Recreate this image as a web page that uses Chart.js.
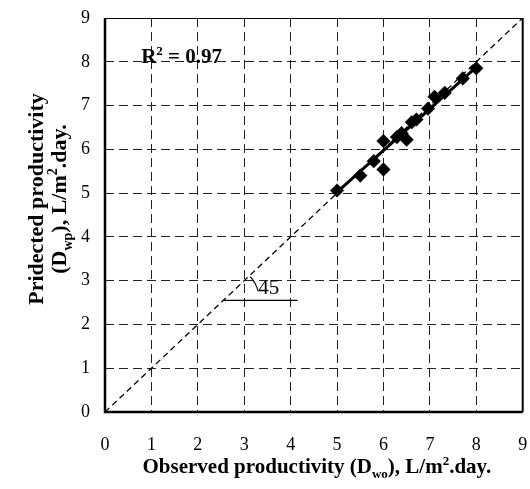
<!DOCTYPE html>
<html>
<head>
    <meta charset="UTF-8"/>
    <title>Observed vs predicted productivity</title>
    <script type="text/javascript" src="https://cdn.jsdelivr.net/npm/chart.js@4.4.0/dist/chart.umd.min.js"></script>
    <style>
        html, body { margin: 0; padding: 0; background: #fff; }
    </style>
</head>
<body>
<canvas id="graficoProd" width="530" height="489"></canvas>
<script type="text/javascript">
    // observed (Dwo) and predicted (Dwp) productivity, L/m2.day
    var observed  = [5.0, 5.5, 5.79, 6.0, 6.0, 6.29, 6.39, 6.5, 6.61, 6.71, 6.96, 7.1, 7.32, 7.71, 8.0];
    var predicted = [5.06, 5.40, 5.73, 5.54, 6.19, 6.28, 6.37, 6.22, 6.62, 6.68, 6.93, 7.2, 7.29, 7.62, 7.85];

    // fitted line ends and the 1:1 line
    var fitX = [5.0, 8.0];
    var fitY = [5.02, 7.88];
    var diagonal = [0, 9];

    var axisMin = 0;
    var axisMax = 9;

    // text annotations (data units)
    var r2Text = "0.97";
    var r2Pos = {x: 0.78, y: 7.97};
    var angleLineX = [2.55, 4.15];
    var angleLineY = 2.55;
    var angleText = "45";
    var anglePos = {x: 3.3, y: 2.7};

    var SERIF = "'Liberation Serif', 'Times New Roman', serif";

    // draws a list of [text, kind] pieces, kind = "n" | "sub" | "sup"
    var drawRich = function (ctx, parts, x, y, size, weight, align) {
        var fontFor = function (k) {
            var s = k === "n" ? size : Math.round(size * 0.64);
            return weight + " " + s + "px " + SERIF;
        };
        var total = 0;
        parts.forEach(function (p) {
            ctx.font = fontFor(p[1]);
            total += ctx.measureText(p[0]).width;
        });
        var cx = align === "center" ? x - total / 2 : x;
        ctx.textBaseline = "alphabetic";
        ctx.textAlign = "left";
        parts.forEach(function (p) {
            ctx.font = fontFor(p[1]);
            var dy = 0;
            if (p[1] === "sub") dy = size * 0.26;
            if (p[1] === "sup") dy = -size * 0.4;
            ctx.fillText(p[0], cx, y + dy);
            cx += ctx.measureText(p[0]).width;
        });
    };

    var decorPlugin = {
        id: 'decor',
        afterDraw: function (chart) {
            var ctx = chart.ctx;
            var a = chart.chartArea;
            var xs = chart.scales.x;
            var ys = chart.scales.y;
            ctx.save();
            ctx.fillStyle = "#000";
            ctx.strokeStyle = "#000";

            // frame
            ctx.lineWidth = 1;
            ctx.beginPath();
            ctx.moveTo(a.left, a.top + 0.5);
            ctx.lineTo(a.right, a.top + 0.5);
            ctx.stroke();
            ctx.lineWidth = 2.5;
            ctx.beginPath();
            ctx.moveTo(a.left, a.top);
            ctx.lineTo(a.left, a.bottom);
            ctx.lineTo(a.right, a.bottom);
            ctx.stroke();
            ctx.lineWidth = 2;
            ctx.beginPath();
            ctx.moveTo(a.right, a.top);
            ctx.lineTo(a.right, a.bottom);
            ctx.stroke();

            // R2
            drawRich(ctx, [["R", "n"], ["2", "sup"], [" = " + r2Text, "n"]],
                xs.getPixelForValue(r2Pos.x), ys.getPixelForValue(r2Pos.y), 21, "bold", "left");

            // 45 degree marker
            var ly = ys.getPixelForValue(angleLineY);
            var lx0 = xs.getPixelForValue(angleLineX[0]);
            var lx1 = xs.getPixelForValue(angleLineX[1]);
            ctx.lineWidth = 1.2;
            ctx.beginPath();
            ctx.moveTo(lx0, ly);
            ctx.lineTo(lx1, ly);
            ctx.stroke();
            ctx.beginPath();
            ctx.arc(lx0, ly, 36, -Math.PI * 0.23, -Math.PI * 0.08);
            ctx.stroke();
            ctx.font = "21px " + SERIF;
            ctx.textAlign = "left";
            ctx.textBaseline = "alphabetic";
            ctx.fillText(angleText, xs.getPixelForValue(anglePos.x), ys.getPixelForValue(anglePos.y));

            // x title
            drawRich(ctx, [["Observed productivity (D", "n"], ["wo", "sub"], ["), L/m", "n"], ["2", "sup"], [".day.", "n"]],
                (a.left + a.right) / 2 + 3, 473, 21, "bold", "center");

            // y title (two lines)
            var cy = 199;
            ctx.translate(43, cy);
            ctx.rotate(-Math.PI / 2);
            drawRich(ctx, [["Pridected productivity", "n"]], 0, 0, 22, "bold", "center");
            ctx.rotate(Math.PI / 2);
            ctx.translate(-43, -cy);
            ctx.translate(66, cy);
            ctx.rotate(-Math.PI / 2);
            drawRich(ctx, [["(D", "n"], ["wp", "sub"], ["), L/m", "n"], ["2", "sup"], [".day.", "n"]], 0, 0, 22, "bold", "center");
            ctx.restore();
        }
    };

    var points = observed.map(function (v, i) { return {x: v, y: predicted[i]}; });
    var fitPts = fitX.map(function (v, i) { return {x: v, y: fitY[i]}; });
    var diagPts = diagonal.map(function (v) { return {x: v, y: v}; });

    var tickFont = {family: SERIF, size: 18};

    var ctx = document.getElementById("graficoProd");
    var myChart = new Chart(ctx, {
        type: 'scatter',
        data: {
            datasets: [
                {
                    label: "1:1",
                    type: 'line',
                    data: diagPts,
                    borderColor: "#000",
                    borderWidth: 1.3,
                    borderDash: [6, 4],
                    pointRadius: 0,
                    fill: false
                },
                {
                    label: "fit",
                    type: 'line',
                    data: fitPts,
                    borderColor: "#000",
                    borderWidth: 3,
                    pointRadius: 0,
                    fill: false
                },
                {
                    label: "data",
                    data: points,
                    pointStyle: 'rectRot',
                    pointRadius: 6.8,
                    pointBorderWidth: 0.5,
                    backgroundColor: "#000",
                    borderColor: "#000"
                }
            ]
        },
        options: {
            responsive: false,
            animation: false,
            devicePixelRatio: 1,
            layout: {padding: {top: 18, right: 5, left: 0, bottom: 0}},
            plugins: {
                legend: {display: false},
                tooltip: {enabled: false}
            },
            scales: {
                x: {
                    type: 'linear',
                    min: axisMin,
                    max: axisMax,
                    afterFit: function (s) {
                        s.height = 77;
                        s.paddingLeft = 0;
                        s.paddingRight = 0;
                    },
                    ticks: {stepSize: 1, color: "#000", font: tickFont, padding: 22},
                    grid: {color: "#222", lineWidth: 1, drawTicks: false, tickLength: 0},
                    border: {display: false, dash: [9, 5]}
                },
                y: {
                    type: 'linear',
                    min: axisMin,
                    max: axisMax,
                    afterFit: function (s) {
                        s.width = 105;
                        s.paddingTop = 0;
                        s.paddingBottom = 0;
                    },
                    ticks: {stepSize: 1, color: "#000", font: tickFont, padding: 15},
                    grid: {color: "#222", lineWidth: 1, drawTicks: false, tickLength: 0},
                    border: {display: false, dash: [9, 5]}
                }
            }
        },
        plugins: [decorPlugin]
    });
</script>
</body>
</html>
